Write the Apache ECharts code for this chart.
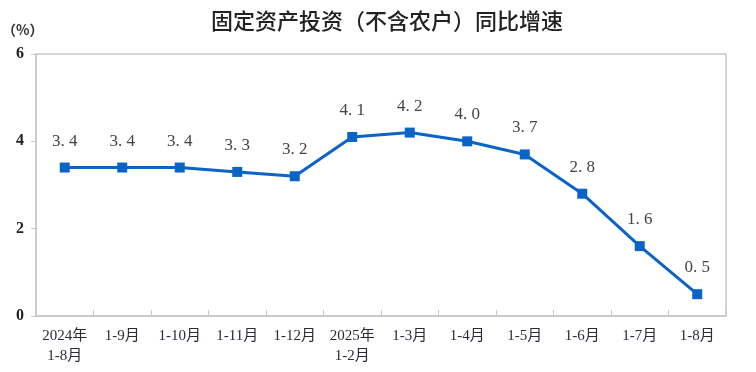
<!DOCTYPE html>
<html><head><meta charset="utf-8">
<script src="https://cdn.jsdelivr.net/npm/echarts@6/dist/echarts.min.js"></script>
<style>html,body{margin:0;padding:0;background:#fff}#c{width:756px;height:372px}</style>
</head><body><div id="c"></div>
<script>
const categories = ['2024年\n1-8月','1-9月','1-10月','1-11月','1-12月','2025年\n1-2月','1-3月','1-4月','1-5月','1-6月','1-7月','1-8月'];
const values = [3.4, 3.4, 3.4, 3.3, 3.2, 4.1, 4.2, 4.0, 3.7, 2.8, 1.6, 0.5];
const yTicks = [0, 2, 4, 6];
const serif = '"Liberation Serif","DejaVu Serif",serif';
const chart = echarts.init(document.getElementById('c'));
chart.setOption({
  animation: false,
  title: {
    text: '固定资产投资（不含农户）同比增速',
    left: 382, top: 5, textAlign: 'center',
    textStyle: {fontFamily: '"Noto Sans CJK SC"', fontSize: 22, fontWeight: 500, color: '#222'}
  },
  graphic: [
    {type: 'text', left: 2, top: 23, style: {text: '（%）', fontFamily: '"Noto Sans CJK SC"', fontSize: 14, fontWeight: 'bold', fill: '#333'}},
    {type: 'rect', shape: {x: 36, y: 54, width: 690, height: 262}, style: {fill: 'none', stroke: '#c8c8c8', lineWidth: 1.5}, silent: true, z: -1}
  ],
  grid: {left: 36, right: 30, top: 54, bottom: 56},
  xAxis: {
    type: 'category', data: categories,
    axisLine: {lineStyle: {color: '#c8c8c8', width: 1.5}},
    axisTick: {show: true, inside: true, length: 6, lineStyle: {color: '#c8c8c8'}},
    axisLabel: {color: '#2a2a3a', fontFamily: serif + ',"Noto Sans CJK SC"', fontSize: 15, margin: 10, lineHeight: 20, interval: 0}
  },
  yAxis: {
    type: 'value', min: 0, max: 6, interval: 2,
    axisLine: {show: true, lineStyle: {color: '#c8c8c8', width: 1.5}},
    axisTick: {show: true, length: 5, lineStyle: {color: '#c8c8c8'}},
    splitLine: {show: false},
    axisLabel: {color: '#222', fontFamily: serif, fontSize: 16, fontWeight: 'bold', margin: 12,
      formatter: v => yTicks.includes(v) ? String(v) : ''}
  },
  series: [{
    type: 'line', data: values,
    symbol: 'rect', symbolSize: 10,
    lineStyle: {color: '#0a64c8', width: 3},
    itemStyle: {color: '#0a64c8'},
    label: {show: true, position: 'top', distance: 13, color: '#444', fontFamily: serif, fontSize: 17,
      formatter: p => p.value.toFixed(1).replace('.', '. ')}
  }]
});
</script></body></html>
